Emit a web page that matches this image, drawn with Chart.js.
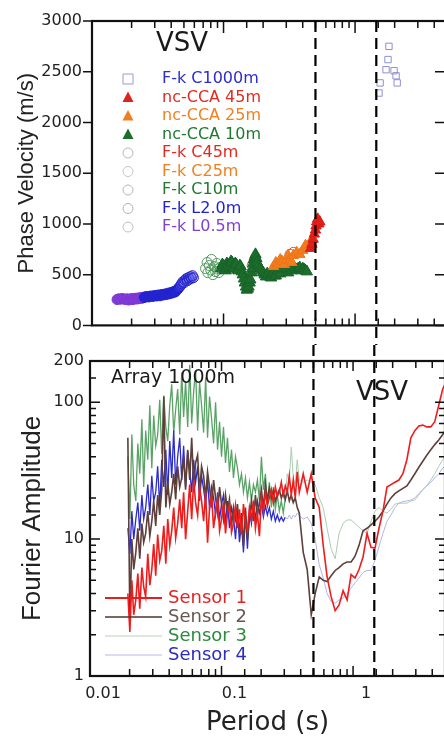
<!DOCTYPE html>
<html>
<head>
<meta charset="utf-8">
<script src="https://cdn.jsdelivr.net/npm/chart.js@4.4.0/dist/chart.umd.min.js"></script>
<style>
    html, body { margin: 0; padding: 0; background: #fff; overflow: hidden; width: 444px; height: 736px; }
    #wrap { position: relative; width: 460px; height: 736px; }
    #topBox { position: absolute; left: 0; top: 0; }
    #botBox { position: absolute; left: 0; top: 345px; }
</style>
</head>
<body>
<div id="wrap">
    <div id="topBox"><canvas id="velChart" width="460" height="345"></canvas></div>
    <div id="botBox"><canvas id="ampChart" width="460" height="391"></canvas></div>
</div>
<script>
// ---- top panel: phase velocity (VSV) ----
const fkC1000Period = [1.52, 1.55, 1.72, 1.78, 1.81, 1.98, 2.05, 2.09];
const fkC1000Vel = [2290, 2390, 2520, 2620, 2750, 2510, 2460, 2390];

const nc45Period = [0.46, 0.47, 0.48, 0.49, 0.50, 0.505, 0.51, 0.52, 0.53, 0.54];
const nc45Vel = [760, 800, 850, 900, 940, 980, 1020, 1050, 1000, 1020];

const nc25Period = [0.24, 0.25, 0.26, 0.27, 0.28, 0.29, 0.30, 0.31, 0.32, 0.33, 0.34, 0.36, 0.38, 0.40, 0.42, 0.44, 0.46];
const nc25Vel = [580, 620, 600, 650, 630, 600, 640, 690, 650, 620, 690, 720, 700, 740, 790, 760, 830];

const nc10Period = [0.096, 0.098, 0.1, 0.102, 0.104, 0.106, 0.108, 0.11, 0.112, 0.114, 0.116, 0.118, 0.12,
    0.123, 0.125, 0.128, 0.13, 0.133, 0.135, 0.138, 0.14, 0.143, 0.145, 0.148, 0.15, 0.153, 0.155, 0.158, 0.16,
    0.163, 0.165, 0.168, 0.17, 0.173, 0.175, 0.178, 0.18,
    0.185, 0.19, 0.195, 0.2, 0.205, 0.21, 0.215, 0.22, 0.225, 0.23, 0.235, 0.24, 0.245, 0.25,
    0.26, 0.27, 0.28, 0.29, 0.3, 0.31, 0.32, 0.33, 0.34, 0.35, 0.36, 0.37, 0.38, 0.39, 0.40, 0.41, 0.42, 0.43];
const nc10Vel = [560, 600, 590, 545, 540, 610, 600, 560, 570, 630, 620, 580, 560,
    610, 600, 550, 540, 590, 580, 530, 500, 460, 420, 380, 350, 360, 380, 420, 450,
    520, 560, 610, 650, 680, 700, 660, 620,
    590, 560, 540, 520, 500, 480, 510, 500, 480, 470, 500, 520, 490, 490,
    540, 510, 560, 600, 560, 520, 560, 540, 580, 560, 550, 560, 570, 540, 560, 550, 540, 530];

const fkC45Period = [0.32, 0.34];
const fkC45Vel = [700, 720];

const fkC25Period = [0.165, 0.17];
const fkC25Vel = [590, 620];

const fkC10Period = [0.073, 0.075, 0.076, 0.078, 0.08, 0.081, 0.083, 0.085, 0.087, 0.089, 0.09, 0.092, 0.094];
const fkC10Vel = [560, 620, 520, 590, 545, 650, 500, 580, 530, 610, 555, 520, 570];

const fkL2Period = [0.025, 0.026, 0.027, 0.028, 0.029, 0.030, 0.031, 0.032, 0.033, 0.034, 0.035, 0.036, 0.037, 0.038, 0.039, 0.040, 0.041, 0.042,
    0.043, 0.044, 0.045, 0.046, 0.047, 0.048, 0.049, 0.050, 0.051, 0.052, 0.053, 0.054, 0.055, 0.056, 0.057, 0.058, 0.059];
const fkL2Vel = [275, 285, 280, 290, 285, 295, 290, 300, 292, 305, 300, 310, 305, 318, 312, 325, 320, 335,
    330, 345, 360, 375, 390, 410, 430, 420, 445, 460, 440, 470, 455, 480, 465, 490, 470];

const fkL05Period = [0.0155, 0.016, 0.0165, 0.017, 0.0175, 0.018, 0.0185, 0.019, 0.0195, 0.02, 0.0205, 0.021, 0.0215, 0.022, 0.0225, 0.023, 0.0235, 0.024, 0.0245, 0.025];
const fkL05Vel = [255, 262, 258, 265, 260, 255, 262, 250, 258, 265, 255, 262, 268, 260, 270, 265, 275, 268, 272, 280];

const velTicks = [0, 500, 1000, 1500, 2000, 2500, 3000];

// ---- bottom panel: Fourier amplitude, Array 1000m ----
const periods = [
    0.0194, 0.0201, 0.0208, 0.0215, 0.0223, 0.0231, 0.0239, 0.0248, 0.0256, 0.0265,
    0.0275, 0.0285, 0.0295, 0.0305, 0.0316, 0.0327, 0.0339, 0.0351, 0.0364, 0.0377,
    0.0390, 0.0404, 0.0418, 0.0433, 0.0448, 0.0464, 0.0481, 0.0498, 0.0515, 0.0533,
    0.0553, 0.0573, 0.0593, 0.0614, 0.0635, 0.0658, 0.0681, 0.0705, 0.0731, 0.0757,
    0.0783, 0.0811, 0.0840, 0.0870, 0.0901, 0.0933, 0.0966, 0.1000, 0.1035, 0.1072,
    0.1110, 0.1149, 0.1191, 0.1233, 0.1277, 0.1322, 0.1369, 0.1418, 0.1468, 0.1520,
    0.1574, 0.1630, 0.1688, 0.1748, 0.1810, 0.1874, 0.1941, 0.2010, 0.2081, 0.2155,
    0.2231, 0.2310, 0.2392, 0.2477, 0.2565, 0.2656, 0.2750, 0.2848, 0.2949, 0.3054,
    0.3162, 0.3274, 0.3390, 0.3510, 0.3635, 0.3764,
    0.390, 0.418, 0.448, 0.481, 0.515, 0.553, 0.593, 0.635, 0.681, 0.731,
    0.783, 0.840, 0.901, 0.966, 1.035, 1.110, 1.191, 1.277, 1.369, 1.468,
    1.574, 1.688, 1.810, 1.941, 2.081, 2.231, 2.392, 2.565, 2.750, 2.949,
    3.162, 3.390, 3.635, 3.898, 4.180, 4.482, 4.806, 5.0
];
const sensor1 = [
    4.0, 2.1, 5.0, 2.8, 3.6, 5.6, 3.1, 6.2, 4.5, 3.8,
    7.8, 4.6, 6.0, 9.2, 5.4, 10.8, 7.0, 8.2, 12.5, 6.6,
    14, 9.0, 11.5, 17, 10.2, 13, 19.5, 12, 22, 10,
    16, 25, 14, 27, 18.5, 15, 24, 19, 13.5, 22,
    9.4, 17, 21, 12, 16, 19.5, 11.5, 14, 18.5, 11,
    15.5, 18, 11.2, 13, 17.5, 12, 16.5, 10.8, 18, 13,
    11.5, 17, 14, 19, 12, 15.5, 10.5, 20, 16, 22,
    17.5, 20, 23, 18.5, 24, 20.5, 22, 26, 21, 24.5,
    22, 29, 21, 27, 20, 31,
    22, 30, 22, 30, 20, 17, 9, 5.3, 3.8, 3.0,
    3.3, 4.2, 3.6, 5.5, 5.2, 6.0, 7.4, 11, 8.7, 8.6,
    12, 16, 24, 25, 26, 27, 30, 38, 55, 62,
    67, 68, 66, 66, 72, 95, 125, 135
];
const sensor2 = [
    55, 2.5, 10, 6.0, 8, 12, 7.2, 13, 9.5, 11,
    16, 10.5, 13.5, 19, 12.5, 21, 15, 23, 110, 17,
    26, 18, 22, 30, 19.5, 34, 24, 28, 40, 23,
    45, 27, 55, 25, 36, 41, 22, 34, 29, 20,
    31, 24, 17, 27, 20, 15.5, 24, 18, 14, 21,
    16, 19.5, 12.5, 17, 14, 18, 11, 15.5, 9, 17,
    10, 14, 19, 13.5, 21, 15, 18, 23, 17, 25,
    19, 23.5, 20, 22.5, 19, 21, 23, 20, 22, 19.5,
    22.5, 19, 21, 18.5, 20, 17,
    15.5, 8, 6.0, 2.8, 4.0, 5.3, 5.0, 4.9, 5.4, 5.9,
    6.2, 6.6, 6.8, 6.8, 7.5, 9, 11.5, 12, 12.7, 13.5,
    14.5, 16, 18, 20, 21.5, 22.5, 23.5, 24.5, 27, 30,
    33.5, 37, 41, 45, 49, 53, 58, 62
];
const sensor3 = [
    40, 14, 58, 25, 19, 50, 30, 75, 24, 62,
    38, 95, 33, 80, 48, 58, 104, 42, 112, 66,
    52, 95, 135, 60, 88, 125, 58, 165, 78, 142,
    66, 188, 70, 120, 172, 62, 140, 95, 60, 152,
    55, 110, 76, 50, 100, 45, 72, 40, 66, 36,
    55, 31, 45, 28, 40, 33, 25, 30, 22, 28,
    20, 26, 19, 25, 22, 27, 19, 40, 23, 30,
    18, 26, 17, 24, 16.5, 21, 16, 19, 15.5, 20,
    30, 26, 47, 28, 25, 38,
    27, 26, 27, 26, 25, 20, 17, 12, 8.5, 7.2,
    11, 13, 13.8, 13.8, 13, 12.2, 11.5, 11, 13.5, 16,
    17, 16, 15.5, 16.5, 18, 18.3, 18.3, 18.3, 19, 19.3,
    21, 23, 24.5, 27, 30, 34, 38, 40
];
const sensor4 = [
    12, 7.8, 16, 10, 14, 18.5, 11.5, 21, 14, 17,
    25, 15, 29, 19, 22, 34, 17, 38, 24, 45,
    21, 52, 28, 62, 25, 40, 55, 27, 48, 24,
    44, 32, 22, 38, 26, 34, 19, 29, 23, 18,
    27, 16.5, 24, 20, 15, 22, 14, 18, 21, 13,
    19, 12, 17, 14.5, 10, 16, 9.5, 13, 8, 15,
    8.5, 16, 13, 18, 14, 19, 15.5, 18, 14.5, 17.5,
    15, 17, 14, 16, 13.5, 15, 13.5, 14.5, 13.5, 14.5,
    14, 15, 14, 15, 14.5, 15.5,
    15, 14, 14.5, 13, 10, 6.5, 5.2, 4.0, 3.5, 3.4,
    3.6, 3.7, 4.0, 4.4, 4.8, 5.2, 5.7, 5.9, 5.9, 7,
    8.8, 11, 13.5, 15, 17, 18.3, 18.8, 19, 19.3, 20,
    21.5, 23, 24.5, 26, 28, 30, 33, 34
];
const ampTickLabels = [1, 10, 100, 200];
const periodTickLabels = [0.01, 0.1, 1, 5];

// vertical dashed reference periods, shared by both panels
const dashPeriods = [0.5, 1.45];

const toPoints = (xs, ys) => xs.map((x, i) => ({ x: x, y: ys[i] }));
const isDecade = v => Math.abs(Math.log10(v) - Math.round(Math.log10(v))) < 1e-6;
const inList = (v, list) => list.some(l => Math.abs(v - l) / Math.max(l, 1e-9) < 1e-6);

// frame + inward tick marks (the library's grid can't point ticks inside)
function drawFrame(chart, o) {
    const { ctx, chartArea: a, scales: { x, y } } = chart;
    ctx.save();
    ctx.strokeStyle = "#111";
    ctx.lineWidth = 1.5;
    ctx.beginPath();
    x.ticks.forEach(t => {
        const px = x.getPixelForValue(t.value);
        if (px < a.left + 2 || px > a.right - 2) return;
        const len = isDecade(t.value) ? o.xMajor : o.xMinor;
        ctx.moveTo(px, a.top); ctx.lineTo(px, a.top + len);
        ctx.moveTo(px, a.bottom); ctx.lineTo(px, a.bottom - len);
    });
    y.ticks.forEach(t => {
        const py = y.getPixelForValue(t.value);
        const major = o.yLog ? isDecade(t.value) : true;
        const len = major ? o.yMajor : o.yMinor;
        ctx.moveTo(a.left, py); ctx.lineTo(a.left + o.leftDir * len, py);
        ctx.moveTo(a.right, py); ctx.lineTo(a.right - (major ? o.rightMajor : o.yMinor), py);
    });
    ctx.stroke();
    ctx.lineWidth = 2.2;
    ctx.strokeRect(a.left, a.top, a.right - a.left, a.bottom - a.top);
    ctx.restore();
}

function drawDashes(chart, y0, y1) {
    const { ctx, scales: { x } } = chart;
    ctx.save();
    ctx.setLineDash([11, 6]);
    ctx.lineWidth = 2.2;
    ctx.strokeStyle = "#000";
    dashPeriods.forEach(p => {
        const px = x.getPixelForValue(p);
        ctx.beginPath();
        ctx.moveTo(px, y0);
        ctx.lineTo(px, y1);
        ctx.stroke();
    });
    ctx.restore();
}

function marker(ctx, style, x, y, r, fill, stroke) {
    ctx.beginPath();
    if (style === "triangle") {
        ctx.moveTo(x, y - r * 1.1);
        ctx.lineTo(x + r, y + r * 0.8);
        ctx.lineTo(x - r, y + r * 0.8);
        ctx.closePath();
    } else if (style === "rect") {
        ctx.rect(x - r, y - r, 2 * r, 2 * r);
    } else {
        ctx.arc(x, y, r, 0, Math.PI * 2);
    }
    if (fill) { ctx.fillStyle = fill; ctx.fill(); }
    if (stroke) { ctx.strokeStyle = stroke; ctx.lineWidth = 1; ctx.stroke(); }
}

const velDecor = {
    id: "velDecor",
    afterDatasetsDraw(chart) {
        const ctx = chart.ctx;
        drawFrame(chart, { xMajor: 12, xMinor: 7, yMajor: 9, yMinor: 9, rightMajor: 12, leftDir: -1, yLog: false });
        ctx.save();
        ctx.textBaseline = "middle";
        ctx.fillStyle = "#1a1a1a";
        ctx.font = '26px "DejaVu Sans"';
        ctx.fillText("VSV", 156, 44);
        ctx.font = '16px "DejaVu Sans"';
        chart.data.datasets.forEach((ds, i) => {
            const y = 79 + i * 18.5;
            marker(ctx, ds.legendStyle, 128, y, ds.legendStyle === "triangle" ? 5.5 : 5, ds.legendFill, ds.legendStroke);
            ctx.fillStyle = ds.textColor;
            ctx.fillText(ds.label, 162, y);
        });
        ctx.restore();
        drawDashes(chart, chart.chartArea.top, chart.height);
    }
};

const ampDecor = {
    id: "ampDecor",
    afterDatasetsDraw(chart) {
        const ctx = chart.ctx;
        drawFrame(chart, { xMajor: 10, xMinor: 7, yMajor: 10, yMinor: 6, rightMajor: 10, leftDir: 1, yLog: true });
        ctx.save();
        ctx.textBaseline = "middle";
        ctx.fillStyle = "#1a1a1a";
        ctx.font = '19px "DejaVu Sans"';
        ctx.fillText("Array 1000m", 111, 33);
        ctx.font = '26px "DejaVu Sans"';
        ctx.fillText("VSV", 356, 48);
        ctx.restore();
        drawDashes(chart, 0, chart.chartArea.bottom);

        ctx.save();
        ctx.textBaseline = "middle";
        ctx.font = '18px "DejaVu Sans"';
        chart.data.datasets.forEach((ds, i) => {
            const y = 253 + i * 19;
            ctx.strokeStyle = ds.legendLine;
            ctx.lineWidth = ds.legendWidth;
            ctx.beginPath();
            ctx.moveTo(105, y);
            ctx.lineTo(162, y);
            ctx.stroke();
            ctx.fillStyle = ds.textColor;
            ctx.fillText(ds.label, 168, y);
        });
        ctx.restore();
    }
};

// Top chart: dispersion curves
new Chart(document.getElementById("velChart"), {
    type: "scatter",
    data: {
        datasets: [
            { label: "F-k C1000m", data: toPoints(fkC1000Period, fkC1000Vel), pointStyle: "rect", pointRadius: 4.5,
              borderColor: "#8f8fd2", backgroundColor: "rgba(255,255,255,0)", borderWidth: 1,
              textColor: "#2c2cd0", legendStyle: "rect", legendFill: null, legendStroke: "#9a9ad4" },
            { label: "nc-CCA 45m", data: toPoints(nc45Period, nc45Vel), pointStyle: "triangle", pointRadius: 6,
              borderColor: "#dc1a14", backgroundColor: "#e0201a", borderWidth: 1,
              textColor: "#e42a20", legendStyle: "triangle", legendFill: "#e0201a", legendStroke: null },
            { label: "nc-CCA 25m", data: toPoints(nc25Period, nc25Vel), pointStyle: "triangle", pointRadius: 6,
              borderColor: "#ee7418", backgroundColor: "#f07d1e", borderWidth: 1,
              textColor: "#f0801e", legendStyle: "triangle", legendFill: "#f07d1e", legendStroke: null },
            { label: "nc-CCA 10m", data: toPoints(nc10Period, nc10Vel), pointStyle: "triangle", pointRadius: 6.5,
              borderColor: "#17622a", backgroundColor: "#1d6e2b", borderWidth: 1,
              textColor: "#1f7a30", legendStyle: "triangle", legendFill: "#1d6e2b", legendStroke: null },
            { label: "F-k C45m", data: toPoints(fkC45Period, fkC45Vel), pointStyle: "circle", pointRadius: 5,
              borderColor: "#d05050", backgroundColor: "rgba(255,255,255,0)", borderWidth: 1,
              textColor: "#e42a20", legendStyle: "circle", legendFill: null, legendStroke: "#b8b8b8" },
            { label: "F-k C25m", data: toPoints(fkC25Period, fkC25Vel), pointStyle: "circle", pointRadius: 5,
              borderColor: "#b07050", backgroundColor: "rgba(255,255,255,0)", borderWidth: 1,
              textColor: "#f0801e", legendStyle: "circle", legendFill: null, legendStroke: "#c4c4c4" },
            { label: "F-k C10m", data: toPoints(fkC10Period, fkC10Vel), pointStyle: "circle", pointRadius: 5,
              borderColor: "#4f9a5c", backgroundColor: "rgba(255,255,255,0)", borderWidth: 1,
              textColor: "#1f7a30", legendStyle: "circle", legendFill: null, legendStroke: "#b8b8b8" },
            { label: "F-k L2.0m", data: toPoints(fkL2Period, fkL2Vel), pointStyle: "circle", pointRadius: 5,
              borderColor: "#2222c8",
              backgroundColor: ctx => (ctx.raw && ctx.raw.x > 0.045 ? "rgba(90,90,230,0.25)" : "#2626dc"),
              borderWidth: 1,
              textColor: "#2222d0", legendStyle: "circle", legendFill: null, legendStroke: "#b0b0b0" },
            { label: "F-k L0.5m", data: toPoints(fkL05Period, fkL05Vel), pointStyle: "circle", pointRadius: 5,
              borderColor: "#7a34d0", backgroundColor: "#8a42e0", borderWidth: 1,
              textColor: "#8040d8", legendStyle: "circle", legendFill: null, legendStroke: "#c0c0c0" }
        ]
    },
    options: {
        responsive: false,
        animation: false,
        layout: { padding: { top: 21, right: 13, left: 0, bottom: 0 } },
        plugins: { legend: { display: false }, tooltip: { enabled: false } },
        scales: {
            x: {
                type: "logarithmic",
                min: 0.01,
                max: 5,
                grid: { display: false, drawTicks: false },
                border: { display: false },
                ticks: { display: false, autoSkip: false },
                afterFit: s => { s.height = 17; }
            },
            y: {
                min: 0,
                max: 3000,
                grid: { display: false, drawTicks: false },
                border: { display: false },
                afterBuildTicks: s => { s.ticks = velTicks.map(v => ({ value: v })); },
                ticks: {
                    callback: v => String(v),
                    font: { family: "DejaVu Sans", size: 16 },
                    color: "#222",
                    padding: 10
                },
                title: {
                    display: true,
                    text: "Phase Velocity (m/s)",
                    font: { family: "Liberation Sans", size: 22 },
                    color: "#222",
                    padding: { top: 14, bottom: 0 }
                },
                afterFit: s => { s.width = 92; }
            }
        }
    },
    plugins: [velDecor]
});

// Bottom chart: Fourier spectra of the four sensors
const noiseEnd = 0.3;
new Chart(document.getElementById("ampChart"), {
    type: "line",
    data: {
        datasets: [
            { label: "Sensor 1", data: toPoints(periods, sensor1), borderColor: "#ee1d1d", borderWidth: 1.6,
              pointRadius: 0, tension: 0, order: 0,
              textColor: "#e02424", legendLine: "#e41e1e", legendWidth: 2 },
            { label: "Sensor 2", data: toPoints(periods, sensor2), borderColor: "#5e3f3a", borderWidth: 1.6,
              pointRadius: 0, tension: 0, order: 1,
              textColor: "#6a5550", legendLine: "#4e3430", legendWidth: 1.6 },
            { label: "Sensor 3", data: toPoints(periods, sensor3), borderColor: "#a9cdb0", borderWidth: 1,
              segment: {
                  borderColor: c => (c.p0.parsed.x < noiseEnd ? "#5aa366" : "#aacdb1"),
                  borderWidth: c => (c.p0.parsed.x < noiseEnd ? 1.3 : 1)
              },
              pointRadius: 0, tension: 0, order: 3,
              textColor: "#2c8a3c", legendLine: "#b7d2bb", legendWidth: 1.2 },
            { label: "Sensor 4", data: toPoints(periods, sensor4), borderColor: "#b4b4e6", borderWidth: 1,
              segment: {
                  borderColor: c => (c.p0.parsed.x < noiseEnd ? "#2a2ad0" : "#b4b4e6"),
                  borderWidth: c => (c.p0.parsed.x < noiseEnd ? 1.3 : 1)
              },
              pointRadius: 0, tension: 0, order: 2,
              textColor: "#2c2cc0", legendLine: "#b8b8e8", legendWidth: 1.2 }
        ]
    },
    options: {
        responsive: false,
        animation: false,
        layout: { padding: { top: 16, right: 15, left: 0, bottom: 0 } },
        plugins: { legend: { display: false }, tooltip: { enabled: false } },
        scales: {
            x: {
                type: "logarithmic",
                min: 0.01,
                max: 5,
                grid: { display: false, drawTicks: false },
                border: { display: false },
                ticks: {
                    autoSkip: false,
                    maxRotation: 0,
                    labelOffset: 13,
                    padding: 8,
                    callback: v => (inList(v, periodTickLabels) ? String(v) : ""),
                    font: { family: "DejaVu Sans", size: 16 },
                    color: "#222"
                },
                title: {
                    display: true,
                    text: "Period (s)",
                    font: { family: "DejaVu Sans", size: 26, lineHeight: 1 },
                    color: "#222",
                    padding: { top: 0, bottom: 0 }
                },
                afterFit: s => { s.height = 60; }
            },
            y: {
                type: "logarithmic",
                min: 1,
                max: 200,
                grid: { display: false, drawTicks: false },
                border: { display: false },
                ticks: {
                    autoSkip: false,
                    padding: 6,
                    callback: v => (inList(v, ampTickLabels) ? String(v) : ""),
                    font: { family: "DejaVu Sans", size: 16 },
                    color: "#222"
                },
                title: {
                    display: true,
                    text: "Fourier Amplitude",
                    font: { family: "Liberation Sans", size: 26 },
                    color: "#222",
                    padding: { top: 17, bottom: 0 }
                },
                afterFit: s => { s.width = 90; }
            }
        }
    },
    plugins: [ampDecor]
});
</script>
</body>
</html>
